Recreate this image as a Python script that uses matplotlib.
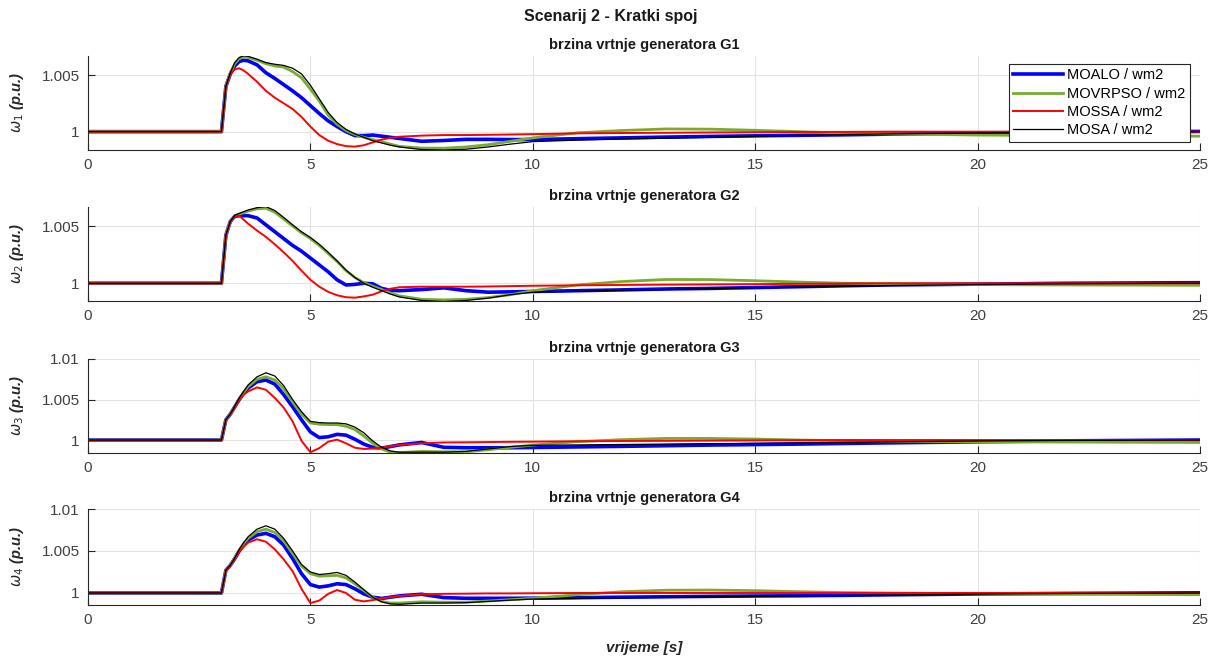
import numpy as np
import matplotlib
matplotlib.use("Agg")
import matplotlib.pyplot as plt

plt.rcParams['font.family'] = ['Liberation Sans', 'DejaVu Sans']
plt.rcParams['mathtext.fontset'] = 'dejavusans'

t = [0, 3.0, 3.1, 3.2, 3.3, 3.4, 3.5, 3.6, 3.8, 4.0,
     4.2, 4.4, 4.6, 4.8, 5.0, 5.2, 5.4, 5.6, 5.8, 6.0,
     6.2, 6.4, 6.6, 6.8, 7.0, 7.5, 8.0, 8.5, 9.0, 9.5,
     10, 11, 12, 13, 14, 15, 16, 17, 18, 20,
     22, 25]

# speed deviation from 1 p.u., in units of 1e-3 p.u.
g1_moalo = [0, 0, 4.0, 5.1, 5.8, 6.2, 6.3, 6.25, 5.9, 5.2,
            4.7, 4.15, 3.6, 3.0, 2.3, 1.6, 0.95, 0.45, 0.0, -0.35,
            -0.35, -0.3, -0.4, -0.5, -0.6, -0.85, -0.78, -0.68, -0.68, -0.7,
            -0.7, -0.62, -0.55, -0.48, -0.42, -0.37, -0.32, -0.28, -0.22, -0.12,
            -0.05, 0.02]
g1_movrpso = [0, 0, 4.0, 5.2, 6.0, 6.45, 6.6, 6.55, 6.3, 6.0,
              5.8, 5.7, 5.3, 4.75, 3.75, 2.7, 1.45, 0.65, 0.1, -0.25,
              -0.5, -0.7, -0.88, -1.1, -1.3, -1.45, -1.46, -1.35, -1.15, -0.85,
              -0.55, -0.1, 0.1, 0.24, 0.22, 0.12, 0.0, -0.12, -0.2, -0.3,
              -0.35, -0.4]
g1_mossa = [0, 0, 4.0, 5.1, 5.5, 5.6, 5.4, 5.1, 4.4, 3.6,
            3.0, 2.5, 2.0, 1.3, 0.45, -0.3, -0.8, -1.1, -1.28, -1.32,
            -1.2, -0.95, -0.7, -0.55, -0.45, -0.35, -0.3, -0.3, -0.28, -0.25,
            -0.22, -0.15, -0.12, -0.1, -0.07, -0.05, -0.03, -0.02, 0.0, 0.0,
            0.0, 0.0]
g1_mosa = [0, 0, 4.0, 5.2, 6.1, 6.55, 6.7, 6.65, 6.4, 6.1,
           5.95, 5.85, 5.6, 5.1, 4.1, 2.9, 1.7, 0.8, 0.2, -0.2,
           -0.5, -0.8, -1.0, -1.2, -1.35, -1.58, -1.62, -1.55, -1.35, -1.1,
           -0.88, -0.75, -0.65, -0.58, -0.5, -0.42, -0.32, -0.25, -0.2, -0.12,
           -0.05, 0.0]

g2_moalo = [0, 0, 4.2, 5.4, 5.85, 5.9, 5.9, 5.9, 5.7, 5.1,
            4.5, 3.9, 3.3, 2.8, 2.2, 1.6, 1.0, 0.3, -0.15, -0.1,
            0.0, -0.05, -0.45, -0.62, -0.65, -0.55, -0.4, -0.65, -0.78, -0.75,
            -0.72, -0.65, -0.58, -0.5, -0.45, -0.38, -0.3, -0.22, -0.15, -0.08,
            0.0, 0.05]
g2_movrpso = [0, 0, 4.2, 5.4, 5.9, 6.05, 6.15, 6.3, 6.5, 6.55,
              6.2, 5.6, 5.0, 4.4, 3.9, 3.3, 2.6, 1.9, 1.1, 0.5,
              0.05, -0.25, -0.55, -0.85, -1.1, -1.4, -1.45, -1.4, -1.25, -1.0,
              -0.65, -0.15, 0.15, 0.33, 0.32, 0.22, 0.1, 0.0, -0.05, -0.12,
              -0.15, -0.18]
g2_mossa = [0, 0, 4.2, 5.4, 5.85, 5.9, 5.55, 5.2, 4.6, 4.05,
            3.4, 2.7, 1.95, 1.1, 0.3, -0.3, -0.75, -1.05, -1.22, -1.26,
            -1.15, -1.0, -0.7, -0.48, -0.35, -0.3, -0.3, -0.3, -0.28, -0.25,
            -0.22, -0.18, -0.15, -0.12, -0.1, -0.08, -0.05, -0.02, 0.0, 0.0,
            0.0, 0.0]
g2_mosa = [0, 0, 4.2, 5.4, 5.95, 6.1, 6.25, 6.4, 6.6, 6.7,
           6.35, 5.75, 5.1, 4.5, 4.0, 3.4, 2.7, 1.95, 1.15, 0.5,
           0.0, -0.35, -0.65, -0.95, -1.2, -1.5, -1.6, -1.5, -1.3, -1.0,
           -0.78, -0.7, -0.62, -0.55, -0.48, -0.4, -0.33, -0.27, -0.2, -0.12,
           -0.05, 0.0]

g3_moalo = [0, 0, 2.5, 3.2, 4.1, 5.0, 5.8, 6.4, 7.2, 7.4,
            6.9, 5.6, 4.1, 2.5, 1.0, 0.3, 0.4, 0.7, 0.6, 0.1,
            -0.5, -0.9, -1.0, -0.8, -0.6, -0.3, -0.9, -0.95, -0.95, -0.95,
            -0.92, -0.85, -0.78, -0.7, -0.62, -0.56, -0.5, -0.42, -0.35, -0.22,
            -0.1, 0.0]
g3_movrpso = [0, 0, 2.5, 3.2, 4.1, 5.1, 5.9, 6.6, 7.5, 7.8,
              7.4, 6.3, 4.7, 3.2, 2.1, 1.95, 1.9, 1.9, 1.7, 1.3,
              0.5, -0.4, -1.1, -1.5, -1.55, -1.4, -1.45, -1.45, -1.2, -0.9,
              -0.62, -0.2, 0.05, 0.2, 0.2, 0.12, 0.0, -0.08, -0.15, -0.22,
              -0.25, -0.3]
g3_mossa = [0, 0, 2.5, 3.2, 4.0, 4.9, 5.6, 6.0, 6.5, 6.2,
            5.2, 4.0, 2.3, -0.1, -1.5, -1.0, -0.2, 0.05, -0.4, -0.95,
            -1.1, -1.05, -0.95, -0.75, -0.6, -0.4, -0.3, -0.28, -0.25, -0.22,
            -0.2, -0.15, -0.12, -0.1, -0.07, -0.05, -0.02, 0.0, 0.0, 0.0,
            0.0, 0.0]
g3_mosa = [0, 0, 2.5, 3.2, 4.2, 5.2, 6.0, 6.8, 7.8, 8.3,
           7.9, 6.7, 5.0, 3.5, 2.3, 2.15, 2.1, 2.1, 2.0, 1.6,
           0.9, -0.1, -0.9, -1.35, -1.5, -1.5, -1.5, -1.4, -1.1, -0.8,
           -0.65, -0.6, -0.55, -0.5, -0.45, -0.4, -0.35, -0.28, -0.22, -0.12,
           -0.05, 0.0]

g4_moalo = [0, 0, 2.7, 3.3, 4.1, 5.0, 5.7, 6.3, 6.9, 7.1,
            6.7, 5.7, 4.1, 2.3, 1.0, 0.7, 0.85, 1.1, 1.0, 0.5,
            -0.1, -0.5, -0.65, -0.5, -0.35, -0.15, -0.55, -0.63, -0.63, -0.63,
            -0.62, -0.56, -0.5, -0.45, -0.4, -0.36, -0.33, -0.28, -0.22, -0.12,
            -0.05, 0.02]
g4_movrpso = [0, 0, 2.7, 3.3, 4.2, 5.1, 5.9, 6.5, 7.3, 7.6,
              7.2, 6.2, 4.7, 3.2, 2.3, 2.0, 2.05, 2.1, 1.8, 1.1,
              0.3, -0.5, -1.0, -1.2, -1.2, -1.05, -1.1, -1.1, -0.95, -0.8,
              -0.63, -0.2, 0.15, 0.33, 0.35, 0.28, 0.15, 0.05, 0.0, -0.1,
              -0.15, -0.2]
g4_mossa = [0, 0, 2.7, 3.3, 4.1, 4.9, 5.5, 6.0, 6.4, 6.1,
            5.2, 4.0, 2.6, 0.5, -1.2, -0.9, -0.1, 0.35, 0.0, -0.8,
            -1.0, -0.85, -0.65, -0.5, -0.35, -0.15, -0.1, -0.08, -0.05, -0.05,
            -0.03, 0.0, 0.0, 0.0, 0.0, 0.0, 0.0, 0.0, 0.0, 0.0,
            0.0, 0.0]
g4_mosa = [0, 0, 2.7, 3.3, 4.2, 5.2, 6.0, 6.7, 7.6, 8.0,
           7.6, 6.5, 5.0, 3.4, 2.5, 2.2, 2.3, 2.45, 2.1, 1.3,
           0.4, -0.5, -1.05, -1.3, -1.35, -1.2, -1.2, -1.15, -1.0, -0.85,
           -0.72, -0.65, -0.58, -0.52, -0.46, -0.4, -0.35, -0.3, -0.24, -0.14,
           -0.06, 0.0]

labels = ['MOALO / wm2', 'MOVRPSO / wm2', 'MOSSA / wm2', 'MOSA / wm2']
colors = ['#0000ff', '#77ac30', '#ff0000', '#000000']
widths = [2.6, 2.0, 1.4, 0.9]

panels = [
    ('G1', [g1_moalo, g1_movrpso, g1_mossa, g1_mosa], (0.99838, 1.00668), [1, 1.005], ['1', '1.005']),
    ('G2', [g2_moalo, g2_movrpso, g2_mossa, g2_mosa], (0.99845, 1.00666), [1, 1.005], ['1', '1.005']),
    ('G3', [g3_moalo, g3_movrpso, g3_mossa, g3_mosa], (0.9984, 1.01), [1, 1.005, 1.01], ['1', '1.005', '1.01']),
    ('G4', [g4_moalo, g4_movrpso, g4_mossa, g4_mosa], (0.99857, 1.01), [1, 1.005, 1.01], ['1', '1.005', '1.01']),
]

W, H = 1222, 661
fig = plt.figure(figsize=(W / 100, H / 100), dpi=100)
# axes boxes in pixels: (top, bottom)
boxes = [(56, 150), (207, 301), (359, 453), (509, 605)]
left, right = 88, 1200

tick_col = '#262626'
axes = []
for i, (gen, series, ylim, yt, ytl) in enumerate(panels):
    top, bot = boxes[i]
    ax = fig.add_axes([left / W, 1 - bot / H, (right - left) / W, (bot - top) / H])
    axes.append(ax)
    for d, c, lw, lab in zip(series, colors, widths, labels):
        ax.plot(t, 1 + np.array(d) / 1000, color=c, lw=lw, label=lab)
    ax.set_xlim(0, 25)
    ax.set_ylim(*ylim)
    ax.set_xticks([0, 5, 10, 15, 20, 25])
    ax.set_yticks(yt)
    ax.set_yticklabels(ytl)
    ax.grid(True, color='#e3e3e3', lw=0.8)
    ax.set_axisbelow(True)
    for s in ['top', 'right']:
        ax.spines[s].set_visible(False)
    for s in ['left', 'bottom']:
        ax.spines[s].set_color(tick_col)
        ax.spines[s].set_linewidth(0.8)
    ax.tick_params(direction='in', length=5, width=0.8, colors=tick_col,
                   labelsize=11, labelcolor='#404040', pad=6)
    ax.set_title('brzina vrtnje generatora ' + gen, fontsize=10.5,
                 fontweight='bold', pad=5, color='#1a1a1a')
    ax.set_ylabel(r'$\omega_{%d}$ (p.u.)' % (i + 1), fontsize=10.5,
                  fontweight='bold', style='italic', color='#262626')
    ax.yaxis.set_label_coords(-0.056, 0.5)

leg = axes[0].legend(loc='upper right', bbox_to_anchor=(0.991, 0.915),
                     fontsize=10.5, fancybox=False, framealpha=1,
                     edgecolor='#262626', handlelength=3.4, handletextpad=0.3,
                     labelspacing=0.3, borderpad=0.3, borderaxespad=0)
leg.get_frame().set_linewidth(0.8)

axes[-1].set_xlabel('vrijeme [s]', fontsize=11, fontweight='bold',
                    style='italic', color='#262626', labelpad=10)

fig.suptitle('Scenarij 2 - Kratki spoj', fontsize=11.5, fontweight='bold',
             y=1 - 17 / H, va='center', color='#1a1a1a')

fig.savefig('out.png', dpi=100)
